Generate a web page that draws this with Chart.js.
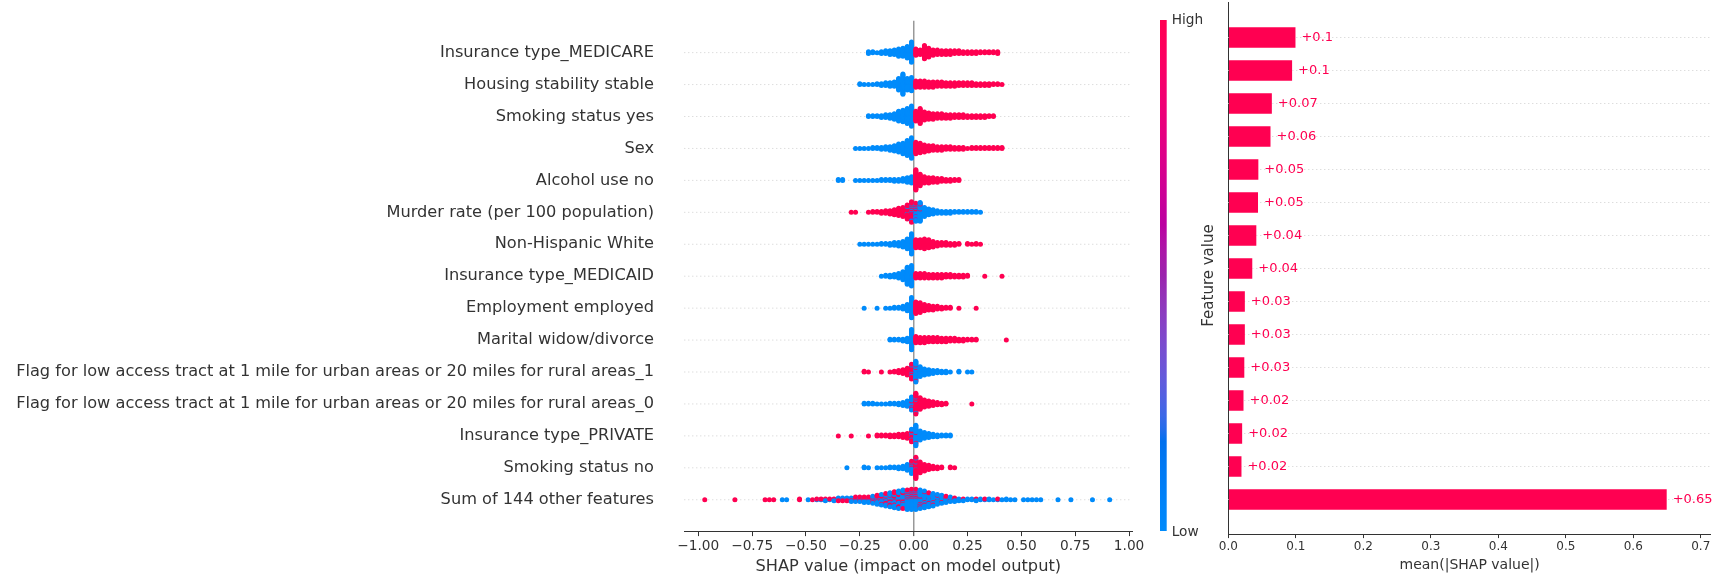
<!DOCTYPE html>
<html><head><meta charset="utf-8">
<script src="https://cdn.jsdelivr.net/npm/chart.js@4.4.0/dist/chart.umd.min.js"></script>
<style>
html,body{margin:0;padding:0;background:#fff;}
#wrap{position:relative;width:1717px;height:577px;overflow:hidden;background:#fff;}
canvas{position:absolute;top:0;}
</style></head><body>
<div id="wrap">
<canvas id="swarm" width="1150" height="577" style="left:0;width:1150px;height:577px"></canvas>
<canvas id="bars" width="567" height="577" style="left:1150px;width:567px;height:577px"></canvas>
</div>
<script>
// ---------------- data ----------------
const features = [
  'Insurance type_MEDICARE',
  'Housing stability stable',
  'Smoking status yes',
  'Sex',
  'Alcohol use no',
  'Murder rate (per 100 population)',
  'Non-Hispanic White',
  'Insurance type_MEDICAID',
  'Employment employed',
  'Marital widow/divorce',
  'Flag for low access tract at 1 mile for urban areas or 20 miles for rural areas_1',
  'Flag for low access tract at 1 mile for urban areas or 20 miles for rural areas_0',
  'Insurance type_PRIVATE',
  'Smoking status no',
  'Sum of 144 other features'
];

// mean(|SHAP value|) per feature (bar chart)
const meanAbsShap = [0.101, 0.096, 0.066, 0.064, 0.046, 0.0455, 0.043, 0.037, 0.026, 0.026, 0.0252, 0.024, 0.022, 0.021, 0.651];

const swarmTicks = [-1, -0.75, -0.5, -0.25, 0, 0.25, 0.5, 0.75, 1];
const barTicks = [0, 0.1, 0.2, 0.3, 0.4, 0.5, 0.6, 0.7];

// Beeswarm: number of samples per SHAP bin (bin width 0.02, bin k covers [0.02k, 0.02(k+1)])
// low feature value (blue)
const lowStart = [-11, -13, -11, -14, -18, -2, -13, -8, -12, -6, -1, -12, -1, -16, -31];
const lowCounts = [
  [3,2,1,3,4,5,6,9,10,14,24],
  [2,1,1,1,2,3,4,5,6,14,24,14,16],
  [2,2,2,3,4,5,7,12,14,18,24],
  [1,1,1,1,2,2,3,4,5,7,10,13,18,24],
  [2,2,0,0,1,1,1,1,1,1,2,2,2,3,3,4,6,8],
  [2,6,14,22,12,8,6,4,3,3,3,2,2,2,2,2,2,1],
  [1,1,1,1,1,2,2,3,4,5,7,12,24],
  [1,2,3,4,6,10,20,24],
  [1,0,0,1,0,1,1,2,2,4,8,24],
  [2,2,2,3,5,24],
  [4,24,14,9,7,5,4,3,3,1,0,2,0,1,1],
  [2,2,2,1,1,1,2,2,3,5,8,14,4],
  [6,24,12,8,6,4,3,2,2,2],
  [1,0,0,0,2,1,0,1,1,1,2,2,3,4,8,12,3],
  [1,1,0,0,0,0,1,0,1,1,2,1,2,2,2,2,3,3,3,4,4,5,7,8,9,11,12,14,15,17,18,
   18,17,16,14,12,10,8,6,5,4,3,2,2,2,2,2,1,2,1,1,1,2,1,1,0,1,1,1,1,1,0,0,0,1,0,0,1,0,0,0,0,1,0,0,0,1]
];
// high feature value (red)
const highStart = [0, 0, 0, 0, 0, -15, 0, 0, 0, 0, -12, -1, -18, -1, -49];
const highCounts = [
  [8,6,16,11,7,6,5,5,5,4,4,3,3,3,3,2,2,2,2,3],
  [8,8,8,7,7,6,6,5,5,5,4,4,4,4,3,3,3,3,2,2,1],
  [12,18,10,8,7,6,6,5,5,4,4,4,3,3,3,3,3,2,2],
  [14,12,9,7,6,5,5,4,4,3,3,3,1,2,2,2,2,2,2,2,2],
  [24,14,8,7,6,5,4,3,3,2,2],
  [1,1,0,0,1,2,2,3,4,5,7,10,12,16,18,6,2],
  [10,10,12,10,7,5,4,4,3,3,2,0,2,1,2,1],
  [6,6,6,5,5,5,5,4,4,3,3,3,2,0,0,0,1,0,0,0,1],
  [14,12,8,6,5,4,3,2,2,0,1,0,0,0,1],
  [8,7,7,6,6,6,5,5,4,4,3,3,2,2,2,0,0,0,0,0,0,1],
  [2,1,0,0,1,0,1,2,4,6,10,16,4],
  [4,24,16,10,8,6,4,3,2,0,0,0,0,0,1],
  [1,0,0,1,0,0,0,1,0,2,2,2,3,3,4,5,7,10,2],
  [4,24,14,9,6,4,3,2,0,2,1],
  [1,0,0,0,0,0,0, 1,0,0,0,0,0,0, 1,1,1,0,0,0,0,0, 2,0,0, 1,1,1,1,1,1, 2,2,2,2, 3,3,3,
   3,4,4,5,6,6,7,7,7,6,6, 6,5,4,3,3,2,2,2,1,1,0,1,0,0,1,0,1,0,0,1]
];
// intermediate feature value (purple)
const midStart = [0,0,0,0,0,-1,0,0,0,0,0,0,0,0,0];
const midCounts = [[],[],[],[],[],[2,3],[],[],[],[],[],[],[],[],[]];

// ---------------- colours ----------------
const BLUE = '#008bfb', RED = '#ff0051';
function lch2rgb(L, C, H) {
  const a = C * Math.cos(H), b = C * Math.sin(H);
  const fy = (L + 16) / 116, fx = fy + a / 500, fz = fy - b / 200;
  const d = 6 / 29;
  const finv = t => t > d ? t * t * t : 3 * d * d * (t - 4 / 29);
  const X = 0.95047 * finv(fx), Y = finv(fy), Z = 1.08883 * finv(fz);
  const r = 3.2404542 * X - 1.5371385 * Y - 0.4985314 * Z;
  const g = -0.9692660 * X + 1.8760108 * Y + 0.0415560 * Z;
  const bl = 0.0556434 * X - 0.2040259 * Y + 1.0572252 * Z;
  const gam = v => { v = Math.max(0, v); v = v <= 0.0031308 ? 12.92 * v : 1.055 * Math.pow(v, 1 / 2.4) - 0.055; return Math.round(Math.min(1, v) * 255); };
  return 'rgb(' + gam(r) + ',' + gam(g) + ',' + gam(bl) + ')';
}
function cmap(t) {
  const L = t < 0.5 ? 54 - 28 * t : 40 + 28 * (t - 0.5);
  const C = 70 + 20 * t;
  const H = 4.6588 + t * (0.35470565 + 2 * Math.PI - 4.6588);
  return lch2rgb(L, C, H);
}
const MID = cmap(0.5);

// ---------------- beeswarm layout ----------------
const BIN = 0.02;
function buildSwarm() {
  const pts = [], cols = [];
  for (let r = 0; r < features.length; r++) {
    const groups = [[lowStart[r], lowCounts[r], BLUE], [highStart[r], highCounts[r], RED], [midStart[r], midCounts[r], MID]];
    const bins = new Map();
    for (const [start, counts, color] of groups) {
      counts.forEach((c, j) => {
        const k = start + j;
        if (!bins.has(k)) bins.set(k, []);
        for (let i = 0; i < c; i++) bins.get(k).push({color, key: (i + 0.5) / c});
      });
    }
    const rowPts = [];
    let maxUp = 0;
    [...bins.keys()].sort((a, b) => a - b).forEach(k => {
      const items = bins.get(k).sort((a, b) => a.key - b.key);
      const n = items.length;
      items.forEach((it, j) => {
        // stack layers centre-out (0, +1, -1, +2, -2 ...); swap pairs so colours are not tied to one side
        let layer = j;
        if (j % 4 === 2 && j + 1 < n) layer = j + 1;
        else if (j % 4 === 3) layer = j - 1;
        const off = Math.ceil(layer / 2) * ((layer % 2) * 2 - 1);
        if (off > maxUp) maxUp = off;
        rowPts.push({x: (k + 0.5) * BIN, off, color: it.color});
      });
    });
    const s = 0.9 * 0.4 / (maxUp + 1);
    rowPts.forEach(p => { pts.push({x: p.x, y: r - p.off * s}); cols.push(p.color); });
  }
  return {pts, cols};
}
const swarm = buildSwarm();

Chart.defaults.font.family = "'DejaVu Sans', sans-serif";
Chart.defaults.color = '#333';

const rowLines = {
  id: 'rowLines',
  beforeDatasetsDraw(chart, args, opts) {
    const {ctx, chartArea} = chart;
    const y = chart.scales.y;
    ctx.save();
    ctx.strokeStyle = opts.color;
    ctx.lineWidth = 1;
    ctx.setLineDash([1, 3]);
    for (let i = 0; i < features.length; i++) {
      const py = y.getPixelForValue(i);
      ctx.beginPath();
      ctx.moveTo(chartArea.left, py);
      ctx.lineTo(chartArea.right, py);
      ctx.stroke();
    }
    ctx.restore();
  }
};

const fmt2 = v => v.toFixed(2).replace('-', '\u2212');

new Chart(document.getElementById('swarm'), {
  type: 'scatter',
  data: {datasets: [{
    data: swarm.pts,
    pointBackgroundColor: swarm.cols,
    pointBorderColor: 'rgba(0,0,0,0)',
    pointRadius: 2.5, pointHoverRadius: 2.5, pointBorderWidth: 0, borderWidth: 0, showLine: false
  }]},
  options: {
    responsive: false, animation: false, events: [],
    layout: {padding: {top: 20.7, right: 17.7, left: 0, bottom: 0}},
    plugins: {legend: {display: false}, tooltip: {enabled: false}, rowLines: {color: '#cfcfcf'}},
    scales: {
      x: {
        type: 'linear', min: -1.065, max: 1.015,
        afterBuildTicks: ax => { ax.ticks = swarmTicks.map(v => ({value: v})); },
        ticks: {callback: v => fmt2(v), color: '#333', font: {size: 13.7}, padding: 2.4, maxRotation: 0, autoSkip: false},
        grid: {
          drawOnChartArea: true, drawTicks: true, tickLength: 4.4, tickColor: '#333', tickWidth: 1,
          color: c => (c.tick && c.tick.value === 0) ? '#999999' : 'rgba(0,0,0,0)',
          lineWidth: c => (c.tick && c.tick.value === 0) ? 1.5 : 1
        },
        border: {display: true, color: '#333', width: 1},
        title: {display: true, text: 'SHAP value (impact on model output)', color: '#333', font: {size: 16.2}, padding: {top: 0, bottom: 0.6}},
        afterFit: ax => { ax.height = 45.3; }
      },
      y: {
        type: 'linear', min: -1, max: 15, reverse: true, offset: false,
        afterBuildTicks: ax => { ax.ticks = features.map((f, i) => ({value: i})); },
        ticks: {callback: v => features[v], color: '#333', font: {size: 16.2}, padding: 0, autoSkip: false},
        grid: {display: true, drawOnChartArea: false, drawTicks: true, tickLength: 30.3, tickColor: 'rgba(0,0,0,0)', color: 'rgba(0,0,0,0)'},
        border: {display: false},
        afterFit: ax => { ax.width = 684.3; }
      }
    }
  },
  plugins: [rowLines]
});

// ---------------- bar chart + colour bar ----------------
const barLabel = v => '+' + v.toFixed(2).replace(/0+$/, '').replace(/\.$/, '');
const valueLabels = {
  id: 'valueLabels',
  afterDatasetsDraw(chart) {
    const {ctx} = chart;
    const meta = chart.getDatasetMeta(0);
    ctx.save();
    ctx.fillStyle = RED;
    ctx.font = "13px 'DejaVu Sans'";
    ctx.textAlign = 'left';
    ctx.textBaseline = 'middle';
    meta.data.forEach((bar, i) => ctx.fillText(barLabel(meanAbsShap[i]), bar.x + 5, bar.y));
    ctx.restore();
  }
};
const colorBar = {
  id: 'colorBar',
  afterDraw(chart) {
    const {ctx} = chart;
    const x0 = 10, w = 6.7, top = 20, bottom = 531;
    const g = ctx.createLinearGradient(0, bottom, 0, top);
    for (let i = 0; i <= 40; i++) g.addColorStop(i / 40, cmap(i / 40));
    ctx.save();
    ctx.fillStyle = g;
    ctx.fillRect(x0, top, w, bottom - top);
    ctx.fillStyle = '#333';
    ctx.font = "13.7px 'DejaVu Sans'";
    ctx.textAlign = 'left';
    ctx.textBaseline = 'middle';
    ctx.fillText('High', x0 + w + 5, top + 0.7);
    ctx.fillText('Low', x0 + w + 5, bottom + 1.7);
    ctx.translate(59.5, (top + bottom) / 2);
    ctx.rotate(-Math.PI / 2);
    ctx.textAlign = 'center';
    ctx.font = "15px 'DejaVu Sans'";
    ctx.fillText('Feature value', 0, 0);
    ctx.restore();
  }
};

new Chart(document.getElementById('bars'), {
  type: 'bar',
  data: {datasets: [{
    data: meanAbsShap.map((v, i) => ({x: v, y: i})),
    backgroundColor: RED,
    borderColor: 'rgba(255,255,255,0.5)',
    borderWidth: 1,
    categoryPercentage: 1,
    barPercentage: 0.68
  }]},
  options: {
    indexAxis: 'y', responsive: false, animation: false, events: [],
    layout: {padding: {top: 2, right: 6.1, left: 0, bottom: 0}},
    plugins: {legend: {display: false}, tooltip: {enabled: false}, rowLines: {color: '#cfcfcf'}},
    scales: {
      x: {
        type: 'linear', min: 0, max: 0.715,
        afterBuildTicks: ax => { ax.ticks = barTicks.map(v => ({value: v})); },
        ticks: {callback: v => v.toFixed(1), color: '#333', font: {size: 12}, padding: 2, maxRotation: 0, autoSkip: false},
        grid: {drawOnChartArea: false, drawTicks: true, tickLength: 3.8, tickColor: '#333'},
        border: {display: true, color: '#333', width: 1},
        title: {display: true, text: 'mean(|SHAP value|)', color: '#333', font: {size: 14}, padding: {top: 0, bottom: 3.6}},
        afterFit: ax => { ax.height = 42.7; }
      },
      y: {
        type: 'linear', min: -1.076, max: 15.054, reverse: true, offset: false,
        afterBuildTicks: ax => { ax.ticks = features.map((f, i) => ({value: i})); },
        ticks: {display: false, padding: 0},
        grid: {display: false},
        border: {display: true, color: '#333', width: 1},
        afterFit: ax => { ax.width = 78.3; }
      }
    }
  },
  plugins: [rowLines, valueLabels, colorBar]
});
</script>
</body></html>
